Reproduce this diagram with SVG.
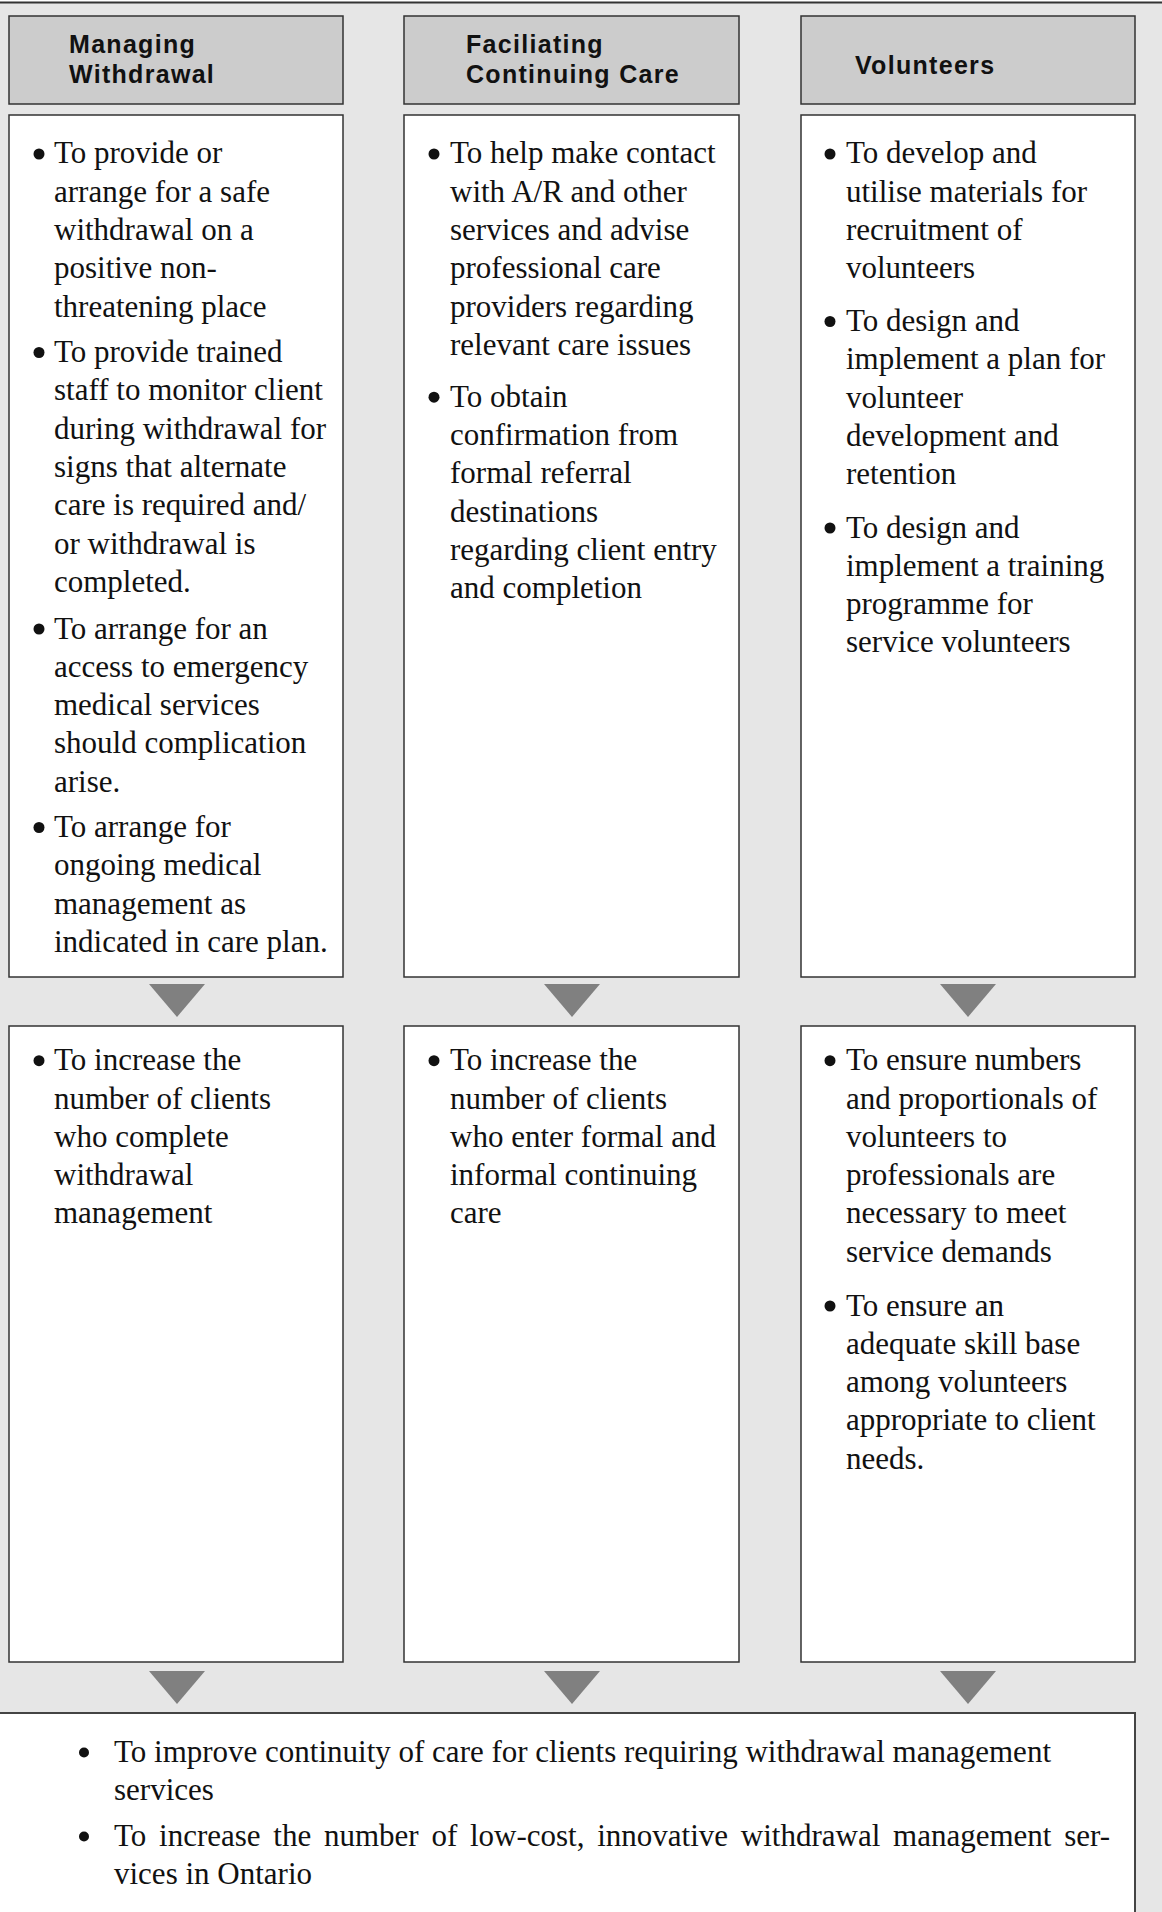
<svg xmlns="http://www.w3.org/2000/svg" width="1162" height="1912" viewBox="0 0 1162 1912">
<style>
.hdr{fill:#cccccc;stroke:#333333;stroke-width:1.5}
.box{fill:#ffffff;stroke:#333333;stroke-width:1.5}
.ht{font-family:"Liberation Sans",Arial,sans-serif;font-weight:bold;font-size:25px;letter-spacing:1.3px;fill:#111111}
.bt{font-family:"Liberation Serif","Times New Roman",serif;font-size:31px;fill:#111111}
.dot{fill:#111111}
.arr{fill:#808080}
</style>
<rect x="0" y="0" width="1162" height="1912" fill="#e6e6e6"/>
<rect x="0" y="0" width="1162" height="2" fill="#ffffff"/>
<line x1="0" y1="2.5" x2="1162" y2="2.5" stroke="#333333" stroke-width="2"/>

<g id="hdr-managing">
<rect class="hdr" x="9" y="16" width="334" height="88"/>
<text class="ht"><tspan x="69" y="53">Managing</tspan><tspan x="69" y="83">Withdrawal</tspan></text>
</g>
<g id="hdr-continuing">
<rect class="hdr" x="404" y="16" width="335" height="88"/>
<text class="ht"><tspan x="466" y="53">Faciliating</tspan><tspan x="466" y="83">Continuing Care</tspan></text>
</g>
<g id="hdr-volunteers">
<rect class="hdr" x="801" y="16" width="334" height="88"/>
<text class="ht"><tspan x="855" y="74">Volunteers</tspan></text>
</g>

<g id="act-managing">
<rect class="box" x="9" y="115" width="334" height="862"/>
<circle class="dot" cx="39" cy="154" r="5.5"/>
<circle class="dot" cx="39" cy="352.5" r="5.5"/>
<circle class="dot" cx="39" cy="629" r="5.5"/>
<circle class="dot" cx="39" cy="827.5" r="5.5"/>
<text class="bt">
<tspan x="54" y="163.3">To provide or</tspan>
<tspan x="54" y="201.6">arrange for a safe</tspan>
<tspan x="54" y="239.9">withdrawal on a</tspan>
<tspan x="54" y="278.2">positive non-</tspan>
<tspan x="54" y="316.5">threatening place</tspan>
<tspan x="54" y="362">To provide trained</tspan>
<tspan x="54" y="400.3">staff to monitor client</tspan>
<tspan x="54" y="438.6">during withdrawal for</tspan>
<tspan x="54" y="476.9">signs that alternate</tspan>
<tspan x="54" y="515.2">care is required and/</tspan>
<tspan x="54" y="553.5">or withdrawal is</tspan>
<tspan x="54" y="591.8">completed.</tspan>
<tspan x="54" y="638.5">To arrange for an</tspan>
<tspan x="54" y="676.8">access to emergency</tspan>
<tspan x="54" y="715.1">medical  services</tspan>
<tspan x="54" y="753.4">should complication</tspan>
<tspan x="54" y="791.7">arise.</tspan>
<tspan x="54" y="837">To arrange for</tspan>
<tspan x="54" y="875.3">ongoing medical</tspan>
<tspan x="54" y="913.6">management as</tspan>
<tspan x="54" y="951.9">indicated in care plan.</tspan>
</text>
</g>

<g id="act-continuing">
<rect class="box" x="404" y="115" width="335" height="862"/>
<circle class="dot" cx="434" cy="154" r="5.5"/>
<circle class="dot" cx="434" cy="397.2" r="5.5"/>
<text class="bt">
<tspan x="450" y="163.3">To help make contact</tspan>
<tspan x="450" y="201.6">with A/R and other</tspan>
<tspan x="450" y="239.9">services and advise</tspan>
<tspan x="450" y="278.2">professional care</tspan>
<tspan x="450" y="316.5">providers regarding</tspan>
<tspan x="450" y="354.8">relevant care issues</tspan>
<tspan x="450" y="406.7">To obtain</tspan>
<tspan x="450" y="445">confirmation from</tspan>
<tspan x="450" y="483.3">formal referral</tspan>
<tspan x="450" y="521.6">destinations</tspan>
<tspan x="450" y="559.9">regarding client entry</tspan>
<tspan x="450" y="598.2">and completion</tspan>
</text>
</g>

<g id="act-volunteers">
<rect class="box" x="801" y="115" width="334" height="862"/>
<circle class="dot" cx="830" cy="154" r="5.5"/>
<circle class="dot" cx="830" cy="321.5" r="5.5"/>
<circle class="dot" cx="830" cy="528" r="5.5"/>
<text class="bt">
<tspan x="846" y="163.3">To develop and</tspan>
<tspan x="846" y="201.6">utilise materials for</tspan>
<tspan x="846" y="239.9">recruitment of</tspan>
<tspan x="846" y="278.2">volunteers</tspan>
<tspan x="846" y="331">To design and</tspan>
<tspan x="846" y="369.3">implement a plan for</tspan>
<tspan x="846" y="407.6">volunteer</tspan>
<tspan x="846" y="445.9">development and</tspan>
<tspan x="846" y="484.2">retention</tspan>
<tspan x="846" y="537.5">To design and</tspan>
<tspan x="846" y="575.8">implement a training</tspan>
<tspan x="846" y="614.1">programme for</tspan>
<tspan x="846" y="652.4">service volunteers</tspan>
</text>
</g>

<g id="out-managing">
<rect class="box" x="9" y="1026" width="334" height="636"/>
<circle class="dot" cx="39" cy="1060.7" r="5.5"/>
<text class="bt">
<tspan x="54" y="1070.2">To increase the</tspan>
<tspan x="54" y="1108.5">number of clients</tspan>
<tspan x="54" y="1146.8">who complete</tspan>
<tspan x="54" y="1185.1">withdrawal</tspan>
<tspan x="54" y="1223.4">management</tspan>
</text>
</g>

<g id="out-continuing">
<rect class="box" x="404" y="1026" width="335" height="636"/>
<circle class="dot" cx="434" cy="1060.7" r="5.5"/>
<text class="bt">
<tspan x="450" y="1070.2">To increase the</tspan>
<tspan x="450" y="1108.5">number of clients</tspan>
<tspan x="450" y="1146.8">who enter formal and</tspan>
<tspan x="450" y="1185.1">informal continuing</tspan>
<tspan x="450" y="1223.4">care</tspan>
</text>
</g>

<g id="out-volunteers">
<rect class="box" x="801" y="1026" width="334" height="636"/>
<circle class="dot" cx="830" cy="1060.7" r="5.5"/>
<circle class="dot" cx="830" cy="1306" r="5.5"/>
<text class="bt">
<tspan x="846" y="1070.2">To ensure numbers</tspan>
<tspan x="846" y="1108.5">and proportionals of</tspan>
<tspan x="846" y="1146.8">volunteers to</tspan>
<tspan x="846" y="1185.1">professionals  are</tspan>
<tspan x="846" y="1223.4">necessary to meet</tspan>
<tspan x="846" y="1261.7">service demands</tspan>
<tspan x="846" y="1315.5">To ensure an</tspan>
<tspan x="846" y="1353.8">adequate skill base</tspan>
<tspan x="846" y="1392.1">among volunteers</tspan>
<tspan x="846" y="1430.4">appropriate to client</tspan>
<tspan x="846" y="1468.7">needs.</tspan>
</text>
</g>

<g id="goals">
<rect x="-2" y="1713" width="1137" height="210" fill="#ffffff" stroke="#444444" stroke-width="2"/>
<circle class="dot" cx="84" cy="1752.5" r="5"/>
<circle class="dot" cx="84" cy="1836.5" r="5"/>
<text class="bt">
<tspan x="114" y="1762">To improve continuity of care for clients requiring withdrawal management</tspan>
<tspan x="114" y="1800">services</tspan>
<tspan x="114" y="1846" word-spacing="5">To increase the number of low-cost, innovative withdrawal management ser-</tspan>
<tspan x="114" y="1884">vices in Ontario</tspan>
</text>
</g>

<g id="connectors">
<polygon class="arr" points="149,984 205,984 177,1017"/>
<polygon class="arr" points="544,984 600,984 572,1017"/>
<polygon class="arr" points="940,984 996,984 968,1017"/>
<polygon class="arr" points="149,1671 205,1671 177,1704"/>
<polygon class="arr" points="544,1671 600,1671 572,1704"/>
<polygon class="arr" points="940,1671 996,1671 968,1704"/>
</g>
</svg>
